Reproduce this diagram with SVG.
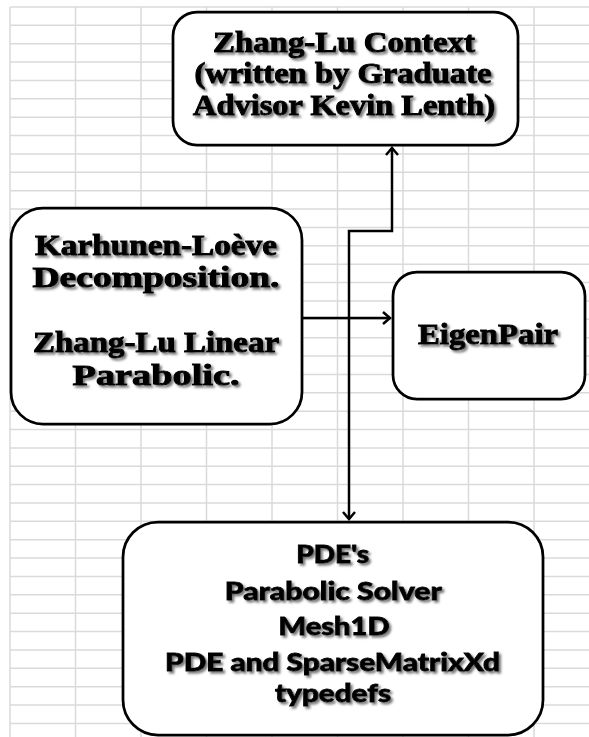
<svg xmlns="http://www.w3.org/2000/svg" width="589" height="737" viewBox="0 0 589 737">
<defs>
<style>
.grid{stroke:#dadada;stroke-width:1.5;fill:none}
.box{fill:#fff;stroke:#000;stroke-width:2.75}
.conn{fill:none;stroke:#000;stroke-width:2.5}
.serif{font-family:"Liberation Serif","Times New Roman",serif;font-weight:bold;font-size:29px;fill:#000;stroke:#000;stroke-width:1;text-anchor:middle}
.sans{font-family:Lato,"Open Sans","Noto Sans",sans-serif;font-weight:900;font-size:24.5px;fill:#000;stroke:#000;stroke-width:0.8;text-anchor:middle}
</style>
<filter id="sh" x="-10%" y="-30%" width="120%" height="160%">
<feDropShadow dx="2.2" dy="2.2" stdDeviation="1.2" flood-color="#6a6a6a" flood-opacity="0.9"/>
</filter>
<marker id="ah" markerUnits="userSpaceOnUse" viewBox="-10 -8 12 16" markerWidth="12" markerHeight="16" refX="0" refY="0" orient="auto-start-reverse">
<path d="M-7,-6 L0,0 L-7,6" fill="none" stroke="#000" stroke-width="2.5"/>
</marker>
</defs>
<rect width="589" height="737" fill="#fff"/>
<g id="grid">
<path class="grid" d="M10,7V737M75.5,7V737M141,7V737M206.5,7V737M272,7V737M337.5,7V737M403,7V737M468.5,7V737M534,7V737
M10,7H589M10,25.37H589M10,43.74H589M10,62.11H589M10,80.48H589M10,98.85H589M10,117.22H589M10,135.59H589M10,153.96H589M10,172.33H589
M10,190.7H589M10,209.07H589M10,227.44H589M10,245.81H589M10,264.18H589M10,282.55H589M10,300.92H589M10,319.29H589M10,337.66H589M10,356.03H589
M10,374.4H589M10,392.77H589M10,411.14H589M10,429.51H589M10,447.88H589M10,466.25H589M10,484.62H589M10,502.99H589M10,521.36H589M10,539.73H589
M10,558.1H589M10,576.47H589M10,594.84H589M10,613.21H589M10,631.58H589M10,649.95H589M10,668.32H589M10,686.69H589M10,705.06H589M10,723.43H589"/>
</g>
<g id="connectors">
<path class="conn" d="M302,318 H390" marker-end="url(#ah)"/>
<path class="conn" d="M392,148 V231 H349 V519" marker-start="url(#ah)" marker-end="url(#ah)"/>
</g>
<g id="context">
<rect class="box" x="173" y="12" width="345" height="133" rx="24"/>
<g filter="url(#sh)">
<text class="serif" x="344" y="51.5" textLength="262" lengthAdjust="spacingAndGlyphs">Zhang-Lu Context</text>
<text class="serif" x="343" y="83" textLength="297" lengthAdjust="spacingAndGlyphs">(written by Graduate</text>
<text class="serif" x="344" y="114.5" textLength="302" lengthAdjust="spacingAndGlyphs">Advisor Kevin Lenth)</text>
</g>
</g>
<g id="kl">
<rect class="box" x="11" y="208" width="291" height="216" rx="32"/>
<g filter="url(#sh)">
<text class="serif" x="156" y="255" textLength="242" lengthAdjust="spacingAndGlyphs">Karhunen-Loève</text>
<text class="serif" x="156" y="287" textLength="247" lengthAdjust="spacingAndGlyphs">Decomposition.</text>
<text class="serif" x="156" y="352" textLength="246" lengthAdjust="spacingAndGlyphs">Zhang-Lu Linear</text>
<text class="serif" x="156" y="385" textLength="167" lengthAdjust="spacingAndGlyphs">Parabolic.</text>
</g>
</g>
<g id="eigenpair">
<rect class="box" x="393" y="272" width="192" height="127" rx="24"/>
<g filter="url(#sh)">
<text class="serif" x="488" y="343.5" textLength="140" lengthAdjust="spacingAndGlyphs">EigenPair</text>
</g>
</g>
<g id="pde">
<rect class="box" x="123" y="522" width="420" height="213" rx="35"/>
<g filter="url(#sh)">
<text class="sans" x="332.7" y="563" textLength="73" lengthAdjust="spacingAndGlyphs">PDE's</text>
<text class="sans" x="333.3" y="600" textLength="217" lengthAdjust="spacingAndGlyphs">Parabolic Solver</text>
<text class="sans" x="334" y="634.5" textLength="111" lengthAdjust="spacingAndGlyphs">Mesh1D</text>
<text class="sans" x="332.5" y="670.5" textLength="335" lengthAdjust="spacingAndGlyphs">PDE and SparseMatrixXd</text>
<text class="sans" x="333" y="702" textLength="116" lengthAdjust="spacingAndGlyphs">typedefs</text>
</g>
</g>
</svg>
